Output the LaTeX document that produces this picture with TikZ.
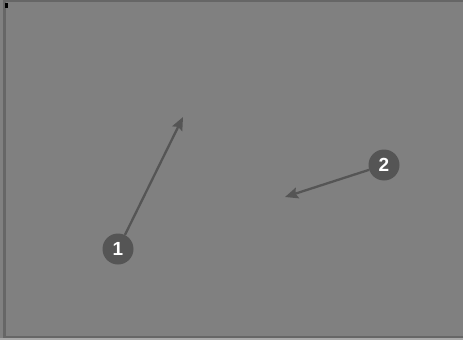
\documentclass[tikz,border=0pt]{standalone}
\usepackage{fontspec}
\setmainfont{Liberation Sans}
\usetikzlibrary{arrows.meta}
\definecolor{bg}{HTML}{808080}
\definecolor{frame}{HTML}{666666}
\definecolor{mark}{HTML}{555555}
\definecolor{strip}{HTML}{A8A8A8}
\tikzset{
  badge/.style={circle, fill=mark, minimum size=31pt, inner sep=0pt, text=white, font=\fontsize{19}{19}\selectfont\bfseries},
  pointer/.style={draw=mark, line width=2.3pt, -{Stealth[length=13pt,width=11pt,inset=2pt]}}
}
\begin{document}
\begin{tikzpicture}[x=1pt,y=-1pt]
\useasboundingbox (0,0) rectangle (463,340);
\fill[bg] (0,0) rectangle (463,340);
\fill[strip] (0,338) rectangle (463,340);
\fill[frame] (4,0) rectangle (463,2);
\fill[frame] (3,0) rectangle (5.5,338);
\fill[frame] (3,335.5) rectangle (463,338);
\fill[black] (5,3) rectangle (8,8);
\node[badge] (b1) at (118,249) {1};
\node[badge] (b2) at (384,165) {2};
\coordinate (t1) at (183,117);
\coordinate (t2) at (285,197);
\draw[pointer] (b1) -- (t1);
\draw[pointer] (b2) -- (t2);
\end{tikzpicture}
\end{document}
